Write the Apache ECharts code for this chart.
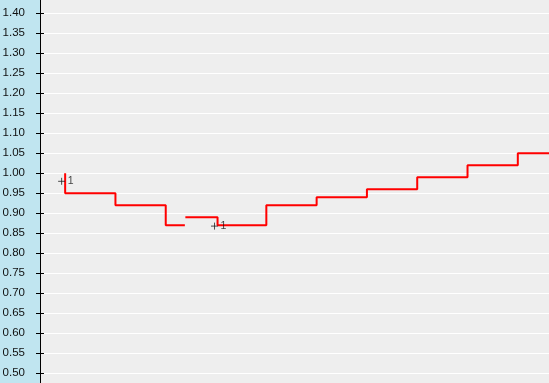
<!DOCTYPE html>
<html><head><meta charset="utf-8">
<script src="https://cdn.jsdelivr.net/npm/echarts@6/dist/echarts.min.js"></script>
<style>html,body{margin:0;padding:0;background:#eeeeee;}#c{width:549px;height:383px;}</style>
</head><body><div id="c"></div>
<script>
// Step curve, first segment (before the break)
var seg1X = [0, 0, 1, 2, 2.38];
var seg1Y = [1.00, 0.95, 0.92, 0.87, 0.87];
// Step curve, second segment (after the break)
var seg2X = [2.39, 3.03, 4, 5, 6, 7, 8, 9, 9.7];
var seg2Y = [0.89, 0.87, 0.92, 0.94, 0.96, 0.99, 1.02, 1.05, 1.05];
// Marked points (plus marker with label)
var markX = [-0.07, 2.97];
var markY = [0.98, 0.868];
var markLabels = ['1', '1'];
// Y axis ticks
var yMin = 0.45, yMax = 1.45, yStep = 0.05;

function pairs(xs, ys) { return xs.map(function (x, i) { return [x, ys[i]]; }); }

var chart = echarts.init(document.getElementById('c'), null, { renderer: 'canvas' });
var yBase = {
  type: 'value', min: yMin, max: yMax, interval: yStep, position: 'left'
};
chart.setOption({
  animation: false,
  backgroundColor: '#eeeeee',
  graphic: [{
    type: 'rect', left: 0, top: 0, z: -1,
    shape: { width: 40, height: 383 },
    style: { fill: '#c0e5f0' }
  }],
  grid: {
    left: 40, right: 0, top: -6.7, height: 400,
    containLabel: false, outerBoundsMode: 'none',
    show: true, backgroundColor: '#eeeeee', borderWidth: 0
  },
  xAxis: {
    type: 'value', min: -0.5, max: 9.62, show: false,
    splitLine: { show: false }
  },
  yAxis: [
    Object.assign({}, yBase, {
      axisLine: { show: true, onZero: false, lineStyle: { color: '#000', width: 1 } },
      axisTick: { show: true, inside: false, length: 4, lineStyle: { color: '#000' } },
      axisLabel: {
        show: true, margin: 15, color: '#111', fontSize: 11.5,
        fontFamily: 'Liberation Sans', padding: [0, 0, 9, 0],
        formatter: function (v) { return v.toFixed(2); }
      },
      splitLine: { show: true, lineStyle: { color: '#ffffff', width: 1 } }
    }),
    Object.assign({}, yBase, {
      axisLine: { show: false, onZero: false },
      axisTick: { show: true, inside: true, length: 4, lineStyle: { color: '#000' } },
      axisLabel: { show: false },
      splitLine: { show: false }
    })
  ],
  series: [
    {
      type: 'line', step: 'end', data: pairs(seg1X, seg1Y),
      symbol: 'none', lineStyle: { color: '#ff0000', width: 2 }, z: 3
    },
    {
      type: 'line', step: 'end', data: pairs(seg2X, seg2Y),
      symbol: 'none', lineStyle: { color: '#ff0000', width: 2 }, z: 3
    },
    {
      type: 'scatter', data: pairs(markX, markY),
      symbol: 'path://M0,5L10,5M5,0L5,10', symbolSize: 7,
      itemStyle: { color: 'none', borderColor: '#222', borderWidth: 1 },
      label: {
        show: true, position: 'right', distance: 0, color: '#111',
        fontSize: 10.5, fontFamily: 'Liberation Sans',
        formatter: function (p) { return markLabels[p.dataIndex]; }
      },
      z: 4
    }
  ]
});
</script>
</body></html>
